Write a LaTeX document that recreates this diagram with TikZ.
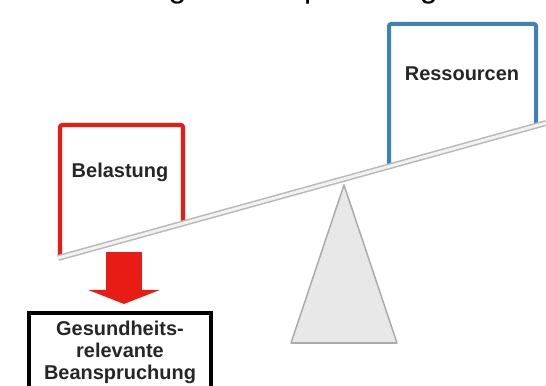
\documentclass[tikz,border=0pt]{standalone}
\usepackage{fontspec}
\setmainfont{Liberation Sans}
\usepackage{tikz}
\usetikzlibrary{arrows.meta}
\usetikzlibrary{positioning}
\definecolor{lastred}{RGB}{232,28,20}
\definecolor{resblue}{RGB}{60,130,182}
\definecolor{txtgray}{RGB}{38,38,38}
\tikzstyle{boxtext} = [font=\fontsize{14.2}{15.6}\selectfont\bfseries, text=txtgray, inner sep=0pt]
\tikzstyle{outcome} = [boxtext, draw=black, line width=2.85pt, minimum width=4.55cm, minimum height=1.95cm, align=center]
\tikzstyle{weight} = [line width=2.85pt, rounded corners=1.5pt]
\tikzstyle{beam} = [draw=gray!55, line width=1.1pt, double=gray!10, double distance=2.1pt]

\begin{document}
\begin{tikzpicture}[x=0.025cm, y=-0.025cm]
						\useasboundingbox (0,0) rectangle (546,386);
						\clip (0,0) rectangle (546,386);
						% cut-off title line
						\node [anchor=base west, inner sep=0pt, font=\fontsize{22.8}{24}\selectfont] (title) at (43.6,-2) {Belastungs-Beanspruchungs-Konzept};
						% weights
						\draw [weight, lastred] (60,257.5) -- (60,125) -- (183,125) -- (183,223.4);
						\draw [weight, resblue] (389,166.3) -- (389,24) -- (536,24) -- (536,125.6);
						\node [boxtext] (belastung) at (120,172) {Belastung};
						\node [boxtext] (ressourcen) at (462,74) {Ressourcen};
						% scale
						\draw [fill=gray!18, draw=gray!65, line width=1.1pt, line join=round] (344,185) -- (397,343) -- (291,343) -- cycle;
						\coordinate (beamL) at (58,258);
						\coordinate (beamR) at (546,123);
						\draw [beam] (beamL) -- (beamR);
						% result
						\node [outcome] (beanspruchung) at (120,352) {Gesundheits-\\relevante\\Beanspruchung};
						\coordinate (push) at (124,252);
						\draw [lastred, line width=0.875cm, shorten >=0.175cm, -{Triangle[length=0.35cm, width=1.775cm]}] (push) -- (beanspruchung.north -| push);
					\end{tikzpicture}
\end{document}
